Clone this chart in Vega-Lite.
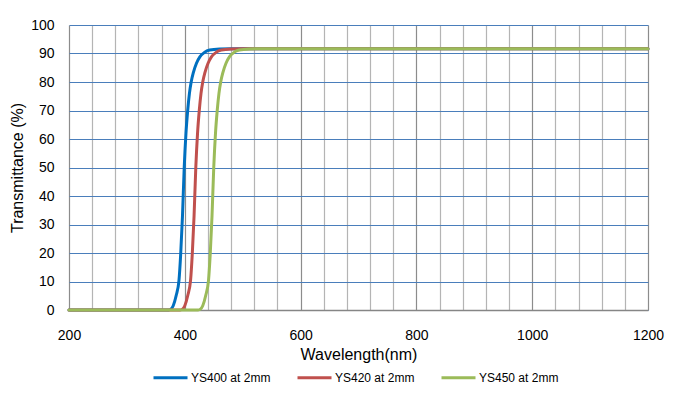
{
  "$schema": "https://vega.github.io/schema/vega-lite/v6.json",
  "width": 579,
  "height": 285,
  "autosize": {"type": "none"},
  "padding": {"left": 69, "top": 25, "right": 30, "bottom": 84},
  "background": "white",
  "config": {
    "font": "Liberation Sans",
    "view": {"stroke": null},
    "axis": {"labelFont": "Liberation Sans", "titleFont": "Liberation Sans", "labelColor": "#000", "titleColor": "#000", "titleFontWeight": "normal"}
  },
  "data": {"values": [
    {"nm": 200, "t": 0, "s": "YS400 at 2mm"},
    {"nm": 372, "t": 0, "s": "YS400 at 2mm"},
    {"nm": 376, "t": 0.3, "s": "YS400 at 2mm"},
    {"nm": 380, "t": 1.5, "s": "YS400 at 2mm"},
    {"nm": 385, "t": 5, "s": "YS400 at 2mm"},
    {"nm": 390, "t": 10.5, "s": "YS400 at 2mm"},
    {"nm": 393, "t": 20, "s": "YS400 at 2mm"},
    {"nm": 396, "t": 33, "s": "YS400 at 2mm"},
    {"nm": 399, "t": 50, "s": "YS400 at 2mm"},
    {"nm": 402, "t": 62, "s": "YS400 at 2mm"},
    {"nm": 405, "t": 70, "s": "YS400 at 2mm"},
    {"nm": 408, "t": 76, "s": "YS400 at 2mm"},
    {"nm": 411, "t": 80, "s": "YS400 at 2mm"},
    {"nm": 415, "t": 83.5, "s": "YS400 at 2mm"},
    {"nm": 420, "t": 86.5, "s": "YS400 at 2mm"},
    {"nm": 426, "t": 88.8, "s": "YS400 at 2mm"},
    {"nm": 434, "t": 90.4, "s": "YS400 at 2mm"},
    {"nm": 443, "t": 91.2, "s": "YS400 at 2mm"},
    {"nm": 460, "t": 91.6, "s": "YS400 at 2mm"},
    {"nm": 480, "t": 91.7, "s": "YS400 at 2mm"},
    {"nm": 1200, "t": 91.7, "s": "YS400 at 2mm"},
    {"nm": 200, "t": 0, "s": "YS420 at 2mm"},
    {"nm": 392, "t": 0, "s": "YS420 at 2mm"},
    {"nm": 396, "t": 0.3, "s": "YS420 at 2mm"},
    {"nm": 400, "t": 1.5, "s": "YS420 at 2mm"},
    {"nm": 405, "t": 5, "s": "YS420 at 2mm"},
    {"nm": 410, "t": 10.5, "s": "YS420 at 2mm"},
    {"nm": 413, "t": 20, "s": "YS420 at 2mm"},
    {"nm": 416, "t": 33, "s": "YS420 at 2mm"},
    {"nm": 419, "t": 50, "s": "YS420 at 2mm"},
    {"nm": 422, "t": 62, "s": "YS420 at 2mm"},
    {"nm": 425, "t": 70, "s": "YS420 at 2mm"},
    {"nm": 428, "t": 76, "s": "YS420 at 2mm"},
    {"nm": 431, "t": 80, "s": "YS420 at 2mm"},
    {"nm": 435, "t": 83.5, "s": "YS420 at 2mm"},
    {"nm": 440, "t": 86.5, "s": "YS420 at 2mm"},
    {"nm": 446, "t": 88.8, "s": "YS420 at 2mm"},
    {"nm": 454, "t": 90.4, "s": "YS420 at 2mm"},
    {"nm": 463, "t": 91.2, "s": "YS420 at 2mm"},
    {"nm": 480, "t": 91.6, "s": "YS420 at 2mm"},
    {"nm": 500, "t": 91.7, "s": "YS420 at 2mm"},
    {"nm": 1200, "t": 91.7, "s": "YS420 at 2mm"},
    {"nm": 200, "t": 0, "s": "YS450 at 2mm"},
    {"nm": 423, "t": 0, "s": "YS450 at 2mm"},
    {"nm": 427, "t": 0.3, "s": "YS450 at 2mm"},
    {"nm": 431, "t": 1.5, "s": "YS450 at 2mm"},
    {"nm": 436, "t": 5, "s": "YS450 at 2mm"},
    {"nm": 441, "t": 10.5, "s": "YS450 at 2mm"},
    {"nm": 444, "t": 20, "s": "YS450 at 2mm"},
    {"nm": 447, "t": 33, "s": "YS450 at 2mm"},
    {"nm": 450, "t": 50, "s": "YS450 at 2mm"},
    {"nm": 453, "t": 62, "s": "YS450 at 2mm"},
    {"nm": 456, "t": 70, "s": "YS450 at 2mm"},
    {"nm": 459, "t": 76, "s": "YS450 at 2mm"},
    {"nm": 462, "t": 80, "s": "YS450 at 2mm"},
    {"nm": 466, "t": 83.5, "s": "YS450 at 2mm"},
    {"nm": 471, "t": 86.5, "s": "YS450 at 2mm"},
    {"nm": 477, "t": 88.8, "s": "YS450 at 2mm"},
    {"nm": 485, "t": 90.4, "s": "YS450 at 2mm"},
    {"nm": 494, "t": 91.2, "s": "YS450 at 2mm"},
    {"nm": 511, "t": 91.6, "s": "YS450 at 2mm"},
    {"nm": 531, "t": 91.7, "s": "YS450 at 2mm"},
    {"nm": 1200, "t": 91.7, "s": "YS450 at 2mm"}
  ]},
  "mark": {"type": "line", "strokeWidth": 3, "interpolate": "monotone", "strokeCap": "round"},
  "encoding": {
    "x": {
      "field": "nm", "type": "quantitative",
      "scale": {"domain": [200, 1200], "nice": false, "zero": false},
      "axis": {
        "title": "Wavelength(nm)",
        "values": [200,240,280,320,360,400,440,480,520,560,600,640,680,720,760,800,840,880,920,960,1000,1040,1080,1120,1160,1200],
        "labelExpr": "datum.value % 200 === 0 ? datum.value + '' : ''",
        "ticks": false,
        "labelFontSize": 14,
        "labelPadding": 18,
        "labelFlush": false,
        "labelOverlap": false,
        "titleFontSize": 16,
        "titlePadding": 4,
        "domainColor": "#868686",
        "domainWidth": 1.5,
        "grid": true,
        "gridColor": {"condition": {"test": "datum.value % 200 === 0", "value": "#8c8c8c"}, "value": "#b4b4b4"},
        "gridWidth": 1.2
      }
    },
    "y": {
      "field": "t", "type": "quantitative",
      "scale": {"domain": [0, 100], "nice": false},
      "axis": {
        "title": "Transmittance (%)",
        "values": [0,10,20,30,40,50,60,70,80,90,100],
        "ticks": false,
        "domain": false,
        "labelFontSize": 14,
        "labelPadding": 15,
        "titleFontSize": 16,
        "titlePadding": 5,
        "grid": true,
        "gridColor": "#4a7ebb",
        "gridWidth": 1.2
      }
    },
    "color": {
      "field": "s", "type": "nominal",
      "scale": {"domain": ["YS400 at 2mm", "YS420 at 2mm", "YS450 at 2mm"], "range": ["#0070c0", "#c0504d", "#9bbb59"]},
      "legend": {
        "title": null,
        "orient": "none",
        "direction": "horizontal",
        "legendX": 83,
        "legendY": 334,
        "symbolType": "stroke",
        "symbolSize": 1156,
        "symbolStrokeWidth": 3,
        "labelFontSize": 12,
        "labelFont": "Liberation Sans",
        "labelColor": "#000",
        "labelOffset": 2,
        "columnPadding": 20
      }
    }
  }
}
